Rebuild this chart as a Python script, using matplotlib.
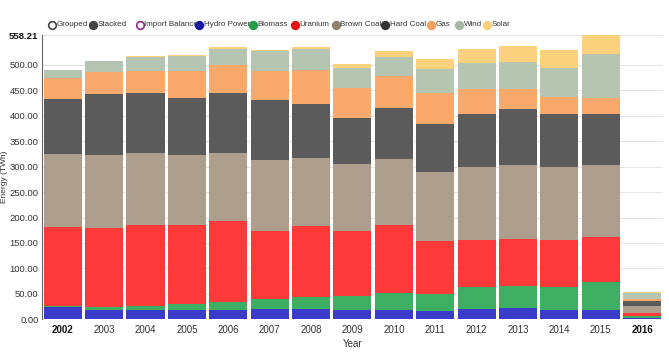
import numpy as np
import matplotlib.pyplot as plt
from matplotlib.lines import Line2D

plt.rcParams['font.family'] = ['Liberation Sans Narrow', 'Liberation Sans', 'DejaVu Sans']

years = ['2002', '2003', '2004', '2005', '2006', '2007', '2008', '2009',
         '2010', '2011', '2012', '2013', '2014', '2015', '2016']

# TWh per source
hydro = [23.5, 17.7, 18.3, 18.5, 18.9, 20.0, 19.6, 18.3, 19.0, 17.0, 20.8, 22.8, 18.3, 18.3, 2.0]
biomass = [3.2, 5.5, 8.4, 11.5, 15.7, 20.0, 24.0, 28.0, 32.0, 32.7, 42.0, 42.6, 45.7, 55.5, 4.5]
uranium = [155.1, 156.6, 159.0, 155.0, 158.4, 134.0, 140.0, 127.7, 133.5, 104.0, 92.9, 92.2, 91.7, 88.2, 6.5]
brown_coal = [142.1, 142.7, 142.1, 137.5, 134.8, 138.7, 134.3, 132.0, 131.5, 134.9, 143.9, 145.9, 142.7, 140.3, 13.0]
hard_coal = [109.9, 121.1, 117.0, 113.3, 117.0, 117.8, 106.0, 90.5, 99.4, 96.2, 104.8, 109.9, 106.0, 102.1, 10.4]
gas = [41.2, 43.2, 43.2, 52.2, 55.8, 56.9, 65.4, 58.9, 62.6, 60.8, 49.1, 40.1, 32.6, 29.6, 2.8]
wind = [15.0, 20.2, 27.6, 29.0, 31.4, 39.3, 42.6, 38.6, 37.6, 47.1, 51.0, 52.2, 57.7, 86.8, 13.0]
solar = [0.5, 1.0, 1.3, 1.8, 2.3, 3.3, 3.0, 7.0, 11.4, 19.3, 27.5, 30.8, 35.3, 37.41, 1.0]

series = [
    ('Hydro Power', hydro, '#3a3acb'),
    ('Biomass', biomass, '#3dae62'),
    ('Uranium', uranium, '#fd3a3a'),
    ('Brown Coal', brown_coal, '#ae9e8d'),
    ('Hard Coal', hard_coal, '#5c5b5b'),
    ('Gas', gas, '#f9a96b'),
    ('Wind', wind, '#b5c5b2'),
    ('Solar', solar, '#fcd17e'),
]

y_max = 558.21
y_ticks = [0, 50, 100, 150, 200, 250, 300, 350, 400, 450, 500, y_max]

fig = plt.figure(figsize=(6.69, 3.55), dpi=100)
ax = fig.add_axes([0.0628, 0.1006, 0.928, 0.8])

x = np.arange(len(years))
bottom = np.zeros(len(years))
for name, vals, col in series:
    ax.bar(x, vals, width=0.92, bottom=bottom, color=col, linewidth=0, zorder=2)
    bottom += np.array(vals)

ax.set_xlim(-0.5, len(years) - 0.5)
ax.set_ylim(0, y_max)
ax.set_yticks(y_ticks)
ax.set_yticklabels([f'{v:.2f}' for v in y_ticks], fontsize=6.8, color='#333333')
ax.get_yticklabels()[-1].set_color('#111111')
ax.get_yticklabels()[-1].set_fontweight('bold')
ax.set_xticks(x)
ax.set_xticklabels(years, fontsize=7, color='#333333')
for i, lab in enumerate(ax.get_xticklabels()):
    if i in (0, len(years) - 1):
        lab.set_fontweight('bold')
        lab.set_color('#111111')
ax.tick_params(axis='both', length=0, pad=4)
ax.tick_params(axis='y', pad=2.5)
ax.grid(axis='y', color='#e6e6e6', linewidth=0.8, zorder=0)
for side in ('top', 'right', 'bottom'):
    ax.spines[side].set_visible(False)
ax.spines['left'].set_color('#666666')
ax.spines['left'].set_linewidth(0.8)
ax.set_xlabel('Year', fontsize=7, color='#333333', labelpad=3)
ax.set_ylabel('Energy (TWh)', fontsize=6, color='#333333')
ax.yaxis.set_label_coords(-0.054, 0.5)

# legend row across the top
legend_items = [
    ('Grouped', 52, 'white', '#444444'),
    ('Stacked', 93, '#444444', '#444444'),
    ('Import Balance', 140, 'white', '#8a2b8a'),
    ('Hydro Power', 199, '#1515a8', '#1515a8'),
    ('Biomass', 253, '#1f9e4a', '#1f9e4a'),
    ('Uranium', 295, '#e01515', '#e01515'),
    ('Brown Coal', 336, '#8f8070', '#8f8070'),
    ('Hard Coal', 385, '#333333', '#333333'),
    ('Gas', 431, '#f4a060', '#f4a060'),
    ('Wind', 459, '#aab8a6', '#aab8a6'),
    ('Solar', 487, '#fbd07a', '#fbd07a'),
]
ly = 1 - 24.5 / 355
for label, px, face, edge in legend_items:
    fx = px / 669
    fig.add_artist(Line2D([fx], [ly], marker='o', markersize=5.5,
                          markerfacecolor=face, markeredgecolor=edge,
                          markeredgewidth=1.2, linestyle='none',
                          transform=fig.transFigure))
    fig.text(fx + 4.5 / 669, ly, label, fontsize=5.8, color='#333333',
             va='center', ha='left')

fig.savefig('out.png', dpi=100)
